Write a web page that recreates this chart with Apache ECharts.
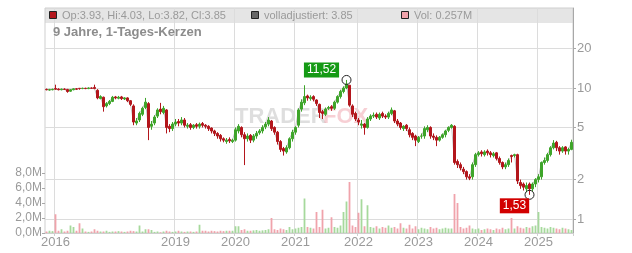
<!DOCTYPE html>
<html>
<head>
<meta charset="utf-8">
<script src="https://cdn.jsdelivr.net/npm/echarts@6/dist/echarts.min.js"></script>
<style>
html,body{margin:0;padding:0;background:#fff;}
#c{width:632px;height:253px;}
</style>
</head>
<body>
<div id="c"></div>
<script>
const opens = [9.75,9.65,9.7,9.9,9.8,9.7,9.8,9.75,9.45,9.7,
 9.85,9.95,9.9,9.95,9.9,10.0,10.1,9.6,8.3,8.5,
 7.3,7.6,7.9,8.55,8.35,8.55,8.25,8.4,8.0,7.3,
 5.4,5.7,6.3,7.1,7.6,5.1,5.4,6.1,6.9,6.5,
 6.8,5.1,4.9,5.3,5.55,5.4,5.7,5.1,5.25,5.0,
 5.25,5.1,5.35,5.2,5.1,4.95,4.7,4.5,4.35,4.1,
 3.9,4.05,3.9,4.0,4.7,5.0,4.4,4.1,4.35,4.0,
 4.3,4.55,4.7,5.05,5.3,5.6,5.0,4.6,3.9,3.45,
 3.25,3.5,4.1,4.6,5.2,6.9,7.7,8.7,8.3,8.6,
 8.1,7.5,6.6,6.3,7.0,7.2,7.0,7.8,8.6,9.4,
 10.0,10.5,7.3,6.4,5.7,5.2,5.3,5.0,5.8,6.1,
 6.3,5.9,6.4,6.1,6.0,6.4,6.7,5.6,5.4,4.9,
 5.2,4.8,4.5,4.3,3.9,4.3,4.3,4.8,5.0,4.3,
 4.2,4.0,4.2,4.4,4.75,5.0,5.1,2.75,2.6,2.4,
 2.3,2.1,2.1,2.6,3.1,3.25,3.1,3.3,3.2,3.05,
 3.2,2.9,2.7,2.5,2.6,3.05,3.05,3.1,1.9,1.85,
 1.7,1.85,1.7,1.85,2.0,2.1,2.7,2.8,3.1,3.5,
 3.85,3.5,3.3,3.55,3.3,3.4];
const closes = [9.7,9.7,9.75,9.8,9.7,9.8,9.75,9.4,9.7,9.85,
 9.8,9.9,9.95,9.9,10.0,9.95,9.9,8.4,8.6,7.2,
 7.6,7.9,8.5,8.4,8.5,8.3,8.4,8.0,7.5,5.5,
 5.6,6.4,7.0,7.8,5.0,5.3,6.0,6.8,6.6,7.0,
 5.0,4.9,5.3,5.5,5.4,5.7,5.2,5.2,5.0,5.2,
 5.1,5.3,5.2,5.1,4.9,4.7,4.5,4.3,4.1,4.0,
 4.0,3.95,4.0,4.8,5.1,4.4,4.1,4.3,4.0,4.3,
 4.5,4.7,5.0,5.3,5.7,4.9,4.6,3.9,3.4,3.3,
 3.5,4.1,4.6,5.0,6.8,7.8,8.6,8.4,8.5,8.2,
 7.6,6.5,6.4,6.9,7.1,7.0,7.8,8.6,9.4,10.0,
 10.7,7.4,6.3,5.8,5.5,5.3,5.0,5.8,6.1,6.2,
 6.0,6.3,6.1,6.0,6.4,6.8,5.6,5.3,5.0,5.1,
 4.9,4.4,4.2,4.0,4.2,4.3,4.9,5.0,4.3,4.2,
 4.0,4.2,4.4,4.7,5.0,5.2,2.7,2.6,2.45,2.3,
 2.1,2.05,2.6,3.1,3.2,3.15,3.25,3.2,3.1,3.15,
 2.9,2.7,2.5,2.6,2.8,3.0,3.1,1.95,1.8,1.75,
 1.8,1.7,1.85,2.0,2.1,2.7,2.8,3.1,3.5,3.8,
 3.5,3.3,3.5,3.3,3.4,3.85];
const highs = [9.9,9.85,9.9,10.6,9.95,9.9,9.95,9.85,9.8,9.95,
 10.0,10.0,10.05,10.05,10.1,10.1,10.6,9.8,8.8,8.6,
 7.8,8.1,8.7,8.7,8.7,8.7,8.5,8.5,8.1,7.5,
 5.9,6.6,7.2,8.4,7.8,5.6,6.2,7.0,7.7,7.3,
 6.9,5.3,5.5,5.8,5.8,6.0,5.9,5.4,5.4,5.3,
 5.4,5.45,5.5,5.3,5.2,5.0,4.8,4.6,4.45,4.2,
 4.15,4.2,4.1,5.0,5.3,5.1,4.6,4.5,4.45,4.45,
 4.7,4.85,5.2,5.5,6.0,5.7,5.1,4.7,4.0,3.55,
 3.65,4.2,4.8,5.1,7.0,8.2,10.5,8.9,8.8,8.8,
 8.2,7.6,6.8,7.1,7.3,7.4,8.0,8.8,9.7,10.3,
 11.52,10.5,7.5,6.6,5.9,5.7,5.4,6.0,6.3,6.5,
 6.5,6.5,6.6,6.3,6.6,7.1,6.8,5.8,5.5,5.2,
 5.3,5.0,4.6,4.4,4.3,4.5,5.1,5.2,5.1,4.5,
 4.35,4.3,4.5,4.8,5.1,5.3,5.2,2.85,2.7,2.5,
 2.35,2.2,2.7,3.2,3.3,3.35,3.35,3.4,3.3,3.25,
 3.25,3.0,2.75,2.7,2.9,3.1,3.15,3.15,2.0,1.9,
 1.9,1.9,1.9,2.05,2.2,2.75,2.95,3.2,3.6,4.0,
 3.95,3.6,3.6,3.6,3.5,4.03];
const lows = [9.6,9.55,9.6,9.7,9.6,9.6,9.65,9.2,9.35,9.6,
 9.7,9.7,9.8,9.8,9.8,9.85,9.8,8.2,8.2,6.6,
 7.1,7.4,7.8,8.2,8.2,8.1,8.1,7.8,7.3,5.2,
 5.2,5.5,6.1,6.9,4.0,4.8,5.2,5.9,6.3,6.3,
 4.5,4.6,4.7,5.1,5.1,5.2,5.0,4.9,4.8,4.85,
 4.9,4.9,5.0,4.9,4.7,4.5,4.3,4.1,3.9,3.85,
 3.75,3.8,3.8,3.9,4.5,4.2,2.58,3.9,3.8,3.85,
 4.1,4.4,4.5,4.85,5.1,4.7,4.4,3.7,3.25,3.05,
 3.15,3.4,3.9,4.4,5.0,6.6,7.4,8.0,8.0,7.9,
 7.3,5.9,5.8,6.1,6.8,6.7,6.8,7.6,8.3,9.1,
 9.8,7.2,6.0,5.6,5.2,4.9,4.4,4.9,5.6,5.9,
 5.8,5.7,5.9,5.8,5.8,6.2,5.4,5.1,4.8,4.7,
 4.7,4.2,4.0,3.6,3.8,4.1,4.1,4.6,4.1,4.0,
 3.6,3.9,4.1,4.2,4.6,4.9,2.6,2.45,2.35,2.2,
 2.0,1.98,2.0,2.5,3.0,3.0,3.0,3.05,2.95,2.95,
 2.8,2.6,2.4,2.4,2.5,2.7,2.95,1.85,1.7,1.65,
 1.6,1.53,1.62,1.75,1.9,2.0,2.6,2.7,3.0,3.4,
 3.3,3.1,3.2,3.1,3.1,3.35];
// volume in millions
const volumes = [0.2,0.3,0.25,2.5,0.3,0.5,0.2,0.3,1.0,0.8,
 0.3,1.3,0.6,0.2,0.15,0.2,0.5,0.3,0.2,0.2,
 0.3,0.15,0.2,0.2,0.25,0.2,0.15,0.2,0.3,0.25,
 0.2,1.0,0.2,0.5,0.5,0.4,0.15,0.2,0.1,0.2,
 0.3,0.2,0.15,0.2,0.3,0.2,0.15,0.2,0.2,0.15,
 0.2,1.1,0.3,0.3,0.2,0.3,0.25,0.2,0.3,0.25,
 0.3,0.3,0.3,0.9,0.9,0.4,0.5,0.3,0.3,0.35,
 0.4,0.3,0.35,0.4,0.5,2.0,0.5,0.4,0.6,0.5,
 0.4,0.8,0.5,0.6,0.7,0.8,4.6,0.8,0.7,0.6,
 2.8,0.8,3.1,0.6,0.7,2.1,0.8,0.7,1.0,2.8,
 4.2,6.8,1.0,0.8,2.7,4.5,0.9,3.7,0.8,0.7,
 0.9,0.6,0.8,0.7,1.0,0.7,0.8,0.6,1.3,0.7,
 0.6,1.1,0.6,0.9,0.5,0.7,0.6,0.5,0.8,0.6,
 0.7,0.5,0.6,0.7,0.6,0.6,5.2,4.0,0.8,0.6,
 0.7,1.0,0.6,0.5,0.6,0.4,0.5,0.6,0.5,0.4,
 0.6,0.5,0.7,0.5,0.6,2.0,0.6,0.9,0.7,0.6,
 0.8,0.7,0.9,1.0,2.8,0.8,0.7,0.6,0.8,0.7,
 0.6,0.5,0.7,0.6,0.5,0.4];
const priceTicks = [1, 2, 5, 10, 20];
const volTickMax = 8;
const xTickDates = ['2017-01-01','2019-01-01','2020-01-01','2021-01-01','2022-01-01','2023-01-01','2024-01-01','2025-01-01'];
const xTickLabels = ['2016','2019','2020','2021','2022','2023','2024','2025'];
const legendTexts = ['Op:3.93, Hi:4.03, Lo:3.82, Cl:3.85', 'volladjustiert: 3.85', 'Vol: 0.257M'];
const titleText = '9 Jahre, 1-Tages-Kerzen';

// category dates (one candle per ~18 days, start mid-Nov 2016)
const startDay = Date.UTC(2016, 10, 13);
const stepDays = 18.11;
const categories = closes.map((_, i) => new Date(startDay + (i + 0.5) * stepDays * 864e5).toISOString().slice(0, 10));
const tickLabelAt = {};
xTickDates.forEach((d, k) => { const idx = categories.findIndex(c => c >= d); if (idx >= 0) tickLabelAt[idx] = xTickLabels[k]; });
const isTick = (idx) => tickLabelAt[idx] !== undefined;

const GREEN = '#3ea52a', RED = '#b3161c', VGREEN = '#a6d99c', VRED = '#f0a3ab';
const FONT = 'Liberation Sans, Arial, sans-serif';

const candleData = categories.map((_, i) => [opens[i], closes[i], lows[i], highs[i]]);
const volData = categories.map((_, i) => ({
  value: volumes[i] * 1e6,
  itemStyle: { color: closes[i] >= opens[i] ? VGREEN : VRED }
}));
const maxIdx = highs.indexOf(Math.max(...highs));
const minIdx = lows.indexOf(Math.min(...lows));
const fmtDe = v => String(v.toFixed(2)).replace('.', ',');

const chart = echarts.init(document.getElementById('c'), null, { renderer: 'canvas' });
chart.setOption({
  animation: false,
  textStyle: { fontFamily: FONT },
  grid: [
    { left: 45, right: 59, top: 8, bottom: 20, show: true, borderColor: '#cfcfcf', borderWidth: 1, backgroundColor: 'transparent', z: 0 },
    { left: 45, right: 59, top: 173, bottom: 20, show: false }
  ],
  xAxis: [
    {
      type: 'category', gridIndex: 0, data: categories, boundaryGap: true,
      axisLine: { show: true, lineStyle: { color: '#cfcfcf' } },
      axisTick: { show: true, interval: (i) => isTick(i), length: 3, lineStyle: { color: '#cfcfcf' } },
      splitLine: { show: true, interval: (i) => isTick(i), lineStyle: { color: '#dcdcdc', width: 1 } },
      axisLabel: { interval: (i) => isTick(i), formatter: (v, i) => tickLabelAt[i] || '', color: '#9a9a9a', fontSize: 13, margin: 3, fontFamily: FONT }
    },
    { type: 'category', gridIndex: 1, data: categories, boundaryGap: true, show: false }
  ],
  yAxis: [
    {
      type: 'log', logBase: 10, gridIndex: 0, position: 'right', min: 0.782, max: 40.8,
      axisLine: { show: true, lineStyle: { color: '#a8a8a8' } },
      axisTick: { show: true, length: 3, customValues: priceTicks, lineStyle: { color: '#a8a8a8' } },
      axisLabel: { customValues: priceTicks, formatter: v => String(v), color: '#9a9a9a', fontSize: 13, margin: 4, fontFamily: FONT },
      splitLine: { show: true, lineStyle: { color: '#dcdcdc' } }
    },
    {
      type: 'value', gridIndex: 1, position: 'left', min: 0, max: volTickMax * 1e6, interval: 2e6,
      axisLine: { show: false },
      axisTick: { show: true, length: 3, lineStyle: { color: '#a8a8a8' } },
      axisLabel: { formatter: v => (v / 1e6).toFixed(1).replace('.', ',') + 'M', color: '#9a9a9a', fontSize: 12, margin: 3, fontFamily: FONT },
      splitLine: { show: false }
    }
  ],
  graphic: [
    { type: 'rect', z: -1, shape: { x: 45, y: 8, width: 528, height: 15 }, style: { fill: '#e5e5e5' } },
    { type: 'text', z: -1, left: 235, top: 106, style: { text: 'TRADER', fill: 'rgba(190,190,190,0.5)', font: 'bold 22px ' + FONT } },
    { type: 'text', z: -1, left: 323, top: 106, style: { text: 'FOX', fill: 'rgba(240,160,170,0.5)', font: 'bold 22px ' + FONT } },
    { type: 'rect', z: 100, shape: { x: 49.5, y: 11.5, width: 7, height: 7 }, style: { fill: '#b3161c', stroke: '#222', lineWidth: 1 } },
    { type: 'text', z: 100, left: 62, top: 10, style: { text: legendTexts[0], fill: '#9a9a9a', font: '11px ' + FONT } },
    { type: 'rect', z: 100, shape: { x: 251.5, y: 11.5, width: 7, height: 7 }, style: { fill: '#666', stroke: '#222', lineWidth: 1 } },
    { type: 'text', z: 100, left: 264, top: 10, style: { text: legendTexts[1], fill: '#9a9a9a', font: '11px ' + FONT } },
    { type: 'rect', z: 100, shape: { x: 401.5, y: 11.5, width: 7, height: 7 }, style: { fill: '#f0a3ab', stroke: '#222', lineWidth: 1 } },
    { type: 'text', z: 100, left: 414, top: 10, style: { text: legendTexts[2], fill: '#9a9a9a', font: '11px ' + FONT } },
    { type: 'text', z: 100, left: 53, top: 26, style: { text: titleText, fill: '#8c8c8c', font: 'bold 13px ' + FONT } }
  ],
  series: [
    {
      type: 'line', name: 'volladjustiert', xAxisIndex: 0, yAxisIndex: 0, data: closes, symbol: 'none',
      lineStyle: { color: '#c4c4c4', width: 1 }, z: 1, silent: true
    },
    {
      type: 'candlestick', xAxisIndex: 0, yAxisIndex: 0, data: candleData, barWidth: '70%', z: 3,
      itemStyle: { color: GREEN, color0: RED, borderColor: GREEN, borderColor0: RED, borderWidth: 1 },
      markPoint: {
        symbol: 'circle', symbolSize: 9,
        itemStyle: { color: 'rgba(255,255,255,0)', borderColor: '#222', borderWidth: 1 },
        data: [
          { coord: [categories[maxIdx], highs[maxIdx]],
            label: { show: true, formatter: fmtDe(highs[maxIdx]), position: 'inside', offset: [-25, -10], backgroundColor: '#159a15', color: '#fff', padding: [2, 3, 1, 3], fontSize: 12, fontFamily: FONT } },
          { coord: [categories[minIdx], lows[minIdx]],
            label: { show: true, formatter: fmtDe(lows[minIdx]), position: 'inside', offset: [-15, 11], backgroundColor: '#d20000', color: '#fff', padding: [2, 3, 1, 3], fontSize: 12, fontFamily: FONT } }
        ]
      }
    },
    {
      type: 'bar', xAxisIndex: 1, yAxisIndex: 1, data: volData, barWidth: '60%', z: 2
    }
  ]
});
</script>
</body>
</html>
